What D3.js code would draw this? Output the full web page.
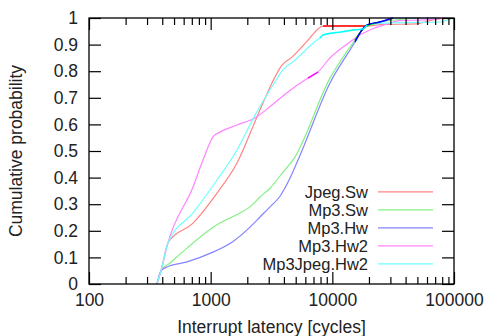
<!DOCTYPE html>
<html>
<head>
<meta charset="utf-8">
<script src="https://cdn.jsdelivr.net/npm/d3@7"></script>
<style>
  body { margin: 0; background: #fff; }
  #chart { width: 485px; height: 336px; }
  text { font-family: "Liberation Sans", Arial, Helvetica, sans-serif; fill: #222; }
  .axis text { font-size: 17.5px; }
  .axis line { stroke: #000; stroke-width: 1.2; }
  .line { fill: none; stroke-width: 1.2; }
  .dense { fill: none; stroke-width: 1.4; }
</style>
</head>
<body>
<div id="chart"></div>
<script>
// series names, in legend order
var seriesNames = ["Jpeg.Sw", "Mp3.Sw", "Mp3.Hw", "Mp3.Hw2", "Mp3Jpeg.Hw2"];
var seriesColors = ["#ff8484", "#84f084", "#8484ff", "#ff84ff", "#70ffff"];
// where the samples are dense the original line looks darker
var denseColors = ["#ff0000", "#00d000", "#0000ff", "#ff00ff", "#00ffff"];

// [latency in cycles, cumulative probability]
var jpegSw = [[362,0],[391,0.05],[446,0.155],[716,0.229],[1128,0.342],[1646,0.455],[2403,0.628],
  [3192,0.756],[3857,0.823],[4660,0.853],[6310,0.917],[7480,0.955],[8380,0.97],[19270,0.97],
  [24650,0.975],[49640,0.978],[63480,0.99],[84330,1]];
var mp3Sw = [[362,0],[391,0.05],[463,0.079],[639,0.135],[988,0.205],[1193,0.229],[1741,0.267],
  [2105,0.29],[2544,0.327],[3073,0.36],[4083,0.43],[4750,0.466],[9570,0.774],[15360,0.917],
  [18530,0.966],[24650,0.985],[52540,1]];
var mp3Hw = [[362,0],[391,0.05],[437,0.064],[639,0.083],[988,0.115],[1526,0.16],[2105,0.214],
  [2544,0.252],[3073,0.29],[3715,0.33],[4400,0.39],[5224,0.466],[9570,0.756],[15360,0.91],[17530,0.955],
  [19270,0.974],[24650,0.985],[31510,1],[76740,1]];
var mp3Hw2 = [[362,0],[391,0.05],[446,0.155],[716,0.365],[865,0.466],[1045,0.553],[1193,0.571],
  [1646,0.598],[2314,0.624],[3192,0.673],[4321,0.722],[6310,0.774],[7625,0.797],[9570,0.85],
  [13970,0.91],[16870,0.936],[20400,0.955],[27100,0.975],[35970,0.99],[59980,0.993],[84330,1]];
var mp3JpegHw2 = [[362,0],[391,0.05],[446,0.155],[716,0.267],[1128,0.391],[1646,0.504],[2314,0.635],
  [3253,0.748],[3931,0.805],[4934,0.842],[7480,0.917],[7918,0.925],[8380,0.936],[10126,0.944],
  [11560,0.947],[14780,0.955],[17860,0.959],[19270,0.974],[31510,0.982],[76740,0.985],[96280,1]];

var seriesData = [jpegSw, mp3Sw, mp3Hw, mp3Hw2, mp3JpegHw2];

// latency ranges [from, to] drawn darker, per series
var denseRanges = [[8380, 19270], [15360, 24650], [14000, 31510], [6310, 7625], [7918, 19270]];

// ticks
var xMajor = [100, 1000, 10000, 100000];
var xTickLabels = ["100", "1000", "10000", "100000"];
var yTicks = [0, 0.1, 0.2, 0.3, 0.4, 0.5, 0.6, 0.7, 0.8, 0.9, 1];
var yTickLabels = ["0", "0.1", "0.2", "0.3", "0.4", "0.5", "0.6", "0.7", "0.8", "0.9", "1"];

// set the dimensions and margins of the graph
var margin = {top: 18, right: 31, bottom: 52, left: 89},
    width = 485 - margin.left - margin.right,
    height = 336 - margin.top - margin.bottom;

var x = d3.scaleLog().domain([100, 100000]).range([0, width]);
var y = d3.scaleLinear().domain([0, 1]).range([height, 0]);

var xMinor = x.ticks().filter(function(d) { return xMajor.indexOf(d) < 0; });

var svg = d3.select("#chart").append("svg")
    .attr("width", 485)
    .attr("height", 336)
  .append("g")
    .attr("transform", "translate(" + margin.left + "," + margin.top + ")");

// the lines
var valueline = d3.line()
    .curve(d3.curveMonotoneX)
    .x(function(d) { return x(d[0]); })
    .y(function(d) { return y(d[1]); });

seriesData.forEach(function(s, i) {
  svg.append("path")
      .datum(s)
      .attr("class", "line")
      .style("stroke", seriesColors[i])
      .attr("d", valueline);
});

seriesData.forEach(function(s, i) {
  var r = denseRanges[i];
  var part = s.filter(function(d) { return d[0] >= r[0] && d[0] <= r[1]; });
  if (part.length < 2) return;
  svg.append("path")
      .datum(part)
      .attr("class", "dense")
      .style("stroke", denseColors[i])
      .attr("d", valueline);
});

// axes, ticks pointing inward on all four sides
function xLabel(d) { return xTickLabels[xMajor.indexOf(d)]; }
function yLabel(d) { return yTickLabels[yTicks.indexOf(d)]; }

svg.append("g").attr("class", "axis")
    .attr("transform", "translate(0," + height + ")")
    .call(d3.axisBottom(x).tickValues(xMajor).tickFormat(xLabel)
      .tickSizeInner(-12).tickSizeOuter(0).tickPadding(10));
svg.append("g").attr("class", "axis")
    .attr("transform", "translate(0," + height + ")")
    .call(d3.axisBottom(x).tickValues(xMinor).tickFormat("")
      .tickSizeInner(-7).tickSizeOuter(0));
svg.append("g").attr("class", "axis")
    .call(d3.axisTop(x).tickValues(xMajor).tickFormat("")
      .tickSizeInner(-12).tickSizeOuter(0));
svg.append("g").attr("class", "axis")
    .call(d3.axisTop(x).tickValues(xMinor).tickFormat("")
      .tickSizeInner(-7).tickSizeOuter(0));
svg.append("g").attr("class", "axis")
    .call(d3.axisLeft(y).tickValues(yTicks).tickFormat(yLabel)
      .tickSizeInner(-12).tickSizeOuter(0).tickPadding(11));
svg.append("g").attr("class", "axis")
    .attr("transform", "translate(" + width + ",0)")
    .call(d3.axisRight(y).tickValues(yTicks).tickFormat("")
      .tickSizeInner(-12).tickSizeOuter(0));

svg.selectAll(".axis .domain").remove();

svg.append("rect")
    .attr("width", width)
    .attr("height", height)
    .attr("fill", "none")
    .attr("stroke", "#000")
    .attr("stroke-width", 1.3);

// axis titles
svg.append("text")
    .attr("x", width / 2)
    .attr("y", height + 49)
    .attr("text-anchor", "middle")
    .style("font-size", "17.5px")
    .text("Interrupt latency [cycles]");

svg.append("text")
    .attr("transform", "translate(" + (-73) + "," + (height / 2) + ") rotate(-90)")
    .attr("text-anchor", "middle")
    .attr("dy", "0.35em")
    .style("font-size", "17.5px")
    .text("Cumulative probability");

// legend
var legend = svg.append("g").attr("transform", "translate(" + (width - 86) + "," + (y(0.35) + 1) + ")");
seriesNames.forEach(function(name, i) {
  var row = legend.append("g").attr("transform", "translate(0," + (i * 18) + ")");
  row.append("text")
      .attr("x", 0)
      .attr("dy", "0.35em")
      .attr("text-anchor", "end")
      .style("font-size", "16.5px")
      .text(name);
  row.append("line")
      .attr("x1", 10).attr("x2", 65)
      .attr("stroke", seriesColors[i])
      .attr("stroke-width", 1.2);
});
</script>
</body>
</html>
